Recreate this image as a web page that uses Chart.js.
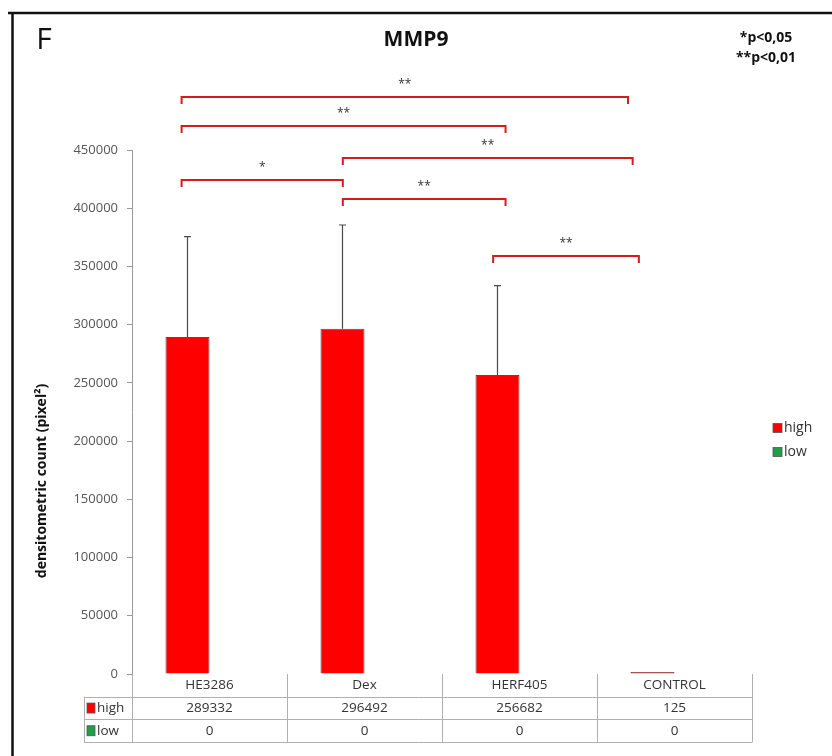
<!DOCTYPE html>
<html>
<head>
<meta charset="utf-8">
<script src="https://cdn.jsdelivr.net/npm/chart.js@4.4.1/dist/chart.umd.min.js"></script>
<style>
  html, body { margin: 0; padding: 0; background: #ffffff; }
  #wrap { width: 832px; height: 756px; }
</style>
</head>
<body>
<div id="wrap"><canvas id="mmp9" width="832" height="756"></canvas></div>
<script>
// MMP9 densitometry per treatment group
const categories = ['HE3286', 'Dex', 'HERF405', 'CONTROL'];
const highValues = [289332, 296492, 256682, 125];
const lowValues = [0, 0, 0, 0];
const highErrors = [86300, 89100, 76800, 0];
const seriesNames = ['high', 'low'];
const seriesColors = ['#ff0000', '#1f9e4a'];

// significance brackets: ends in category units, level in y-axis units
const bracketFrom = [-0.18, -0.18, 0.86, -0.18, 0.86, 1.83];
const bracketTo = [2.70, 1.91, 2.73, 0.86, 1.91, 2.77];
const bracketLevel = [495500, 470600, 443100, 424300, 407900, 359000];
const bracketMarks = ['**', '**', '**', '*', '**', '**'];

const FONT = "'Open Sans', 'DejaVu Sans', sans-serif";

const extras = {
  id: 'extras',
  beforeDraw(chart) {
    const ctx = chart.ctx;
    ctx.save();
    ctx.fillStyle = '#ffffff';
    ctx.fillRect(0, 0, chart.width, chart.height);
    // outer frame (top and left edges)
    ctx.strokeStyle = '#111111';
    ctx.lineWidth = 2.5;
    ctx.beginPath();
    ctx.moveTo(12.5, chart.height);
    ctx.lineTo(12.5, 13);
    ctx.moveTo(8, 13);
    ctx.lineTo(chart.width, 13);
    ctx.stroke();
    ctx.restore();
  },
  afterDraw(chart) {
    const ctx = chart.ctx;
    const xs = chart.scales.x;
    const ys = chart.scales.y;
    const area = chart.chartArea;
    ctx.save();

    // panel letter, title, significance key
    ctx.fillStyle = '#111111';
    ctx.textAlign = 'center';
    ctx.textBaseline = 'middle';
    ctx.font = '400 30px ' + FONT;
    ctx.fillText('F', 44, 40);
    ctx.font = 'bold 21px ' + FONT;
    ctx.fillText('MMP9', 416, 40);
    ctx.font = 'bold 14px ' + FONT;
    ctx.fillText('*p<0,05', 766, 38);
    ctx.fillText('**p<0,01', 766, 58);

    // y-axis title
    ctx.save();
    ctx.translate(42, 481);
    ctx.rotate(-Math.PI / 2);
    ctx.font = 'bold 14px ' + FONT;
    ctx.fillStyle = '#111111';
    ctx.fillText('densitometric count (pixel\u00B2)', 0, 0);
    ctx.restore();

    // error bars on the "high" series
    const meta = chart.getDatasetMeta(0);
    ctx.strokeStyle = '#4a4a4a';
    ctx.lineWidth = 1.2;
    highErrors.forEach((err, i) => {
      if (!err) return;
      const bx = meta.data[i].x;
      const y0 = ys.getPixelForValue(highValues[i]);
      const y1 = ys.getPixelForValue(highValues[i] + err);
      ctx.beginPath();
      ctx.moveTo(bx, y0);
      ctx.lineTo(bx, y1);
      ctx.moveTo(bx - 3.5, y1);
      ctx.lineTo(bx + 3.5, y1);
      ctx.stroke();
    });

    // significance brackets
    ctx.strokeStyle = '#d41c1c';
    ctx.lineWidth = 2;
    ctx.lineCap = 'butt';
    bracketFrom.forEach((f, k) => {
      const x1 = xs.getPixelForValue(f);
      const x2 = xs.getPixelForValue(bracketTo[k]);
      const yl = ys.getPixelForValue(bracketLevel[k]);
      ctx.beginPath();
      ctx.moveTo(x1, yl + 7);
      ctx.lineTo(x1, yl);
      ctx.lineTo(x2, yl);
      ctx.lineTo(x2, yl + 7);
      ctx.stroke();
      ctx.fillStyle = '#333333';
      ctx.font = '12px ' + FONT;
      ctx.fillText(bracketMarks[k], (x1 + x2) / 2, yl - 12);
    });

    // legend on the right
    ctx.font = '14px ' + FONT;
    ctx.textAlign = 'left';
    seriesNames.forEach((name, i) => {
      const ly = 428 + i * 24;
      ctx.fillStyle = seriesColors[i];
      ctx.fillRect(773, ly - 4.5, 9, 9);
      ctx.strokeStyle = '#555555';
      ctx.lineWidth = 0.8;
      ctx.strokeRect(773, ly - 4.5, 9, 9);
      ctx.fillStyle = '#333333';
      ctx.fillText(name, 784, ly);
    });

    // data table under the plot
    const top = area.bottom;
    const rowH = 22.7;
    const keyLeft = 84;
    const edges = [];
    for (let i = 0; i <= categories.length; i++) {
      edges.push(xs.getPixelForValue(i - 0.5));
    }
    ctx.strokeStyle = '#b0b0b0';
    ctx.lineWidth = 1;
    ctx.beginPath();
    edges.forEach((ex) => {
      ctx.moveTo(ex + 0.5, top);
      ctx.lineTo(ex + 0.5, top + rowH * 3);
    });
    ctx.moveTo(keyLeft + 0.5, top + rowH);
    ctx.lineTo(keyLeft + 0.5, top + rowH * 3);
    for (let r = 1; r <= 3; r++) {
      const yy = Math.round(top + rowH * r) + 0.5;
      ctx.moveTo(keyLeft, yy);
      ctx.lineTo(edges[edges.length - 1] + 0.5, yy);
    }
    ctx.stroke();

    ctx.fillStyle = '#333333';
    ctx.font = '13.5px ' + FONT;
    ctx.textAlign = 'center';
    const rows = [highValues, lowValues];
    categories.forEach((c, i) => {
      const cx = xs.getPixelForValue(i);
      ctx.fillText(c, cx, top + rowH * 0.5);
      rows.forEach((vals, r) => {
        ctx.fillText(String(vals[i]), cx, top + rowH * (r + 1.5));
      });
    });
    ctx.textAlign = 'left';
    seriesNames.forEach((name, r) => {
      const yy = top + rowH * (r + 1.5);
      ctx.fillStyle = seriesColors[r];
      ctx.fillRect(87, yy - 5, 8, 10);
      ctx.strokeStyle = '#555555';
      ctx.lineWidth = 0.8;
      ctx.strokeRect(87, yy - 5, 8, 10);
      ctx.fillStyle = '#333333';
      ctx.fillText(name, 97, yy);
    });

    ctx.restore();
  }
};

new Chart(document.getElementById('mmp9'), {
  type: 'bar',
  data: {
    labels: categories,
    datasets: [
      {
        label: seriesNames[0],
        data: highValues,
        backgroundColor: seriesColors[0],
        borderColor: '#5a4a4a',
        borderWidth: 1,
        minBarLength: 2,
        categoryPercentage: 0.568,
        barPercentage: 1.0
      },
      {
        label: seriesNames[1],
        data: lowValues,
        backgroundColor: seriesColors[1],
        borderWidth: 0,
        categoryPercentage: 0.568,
        barPercentage: 1.0
      }
    ]
  },
  options: {
    responsive: false,
    animation: false,
    events: [],
    layout: { padding: { left: 0, top: 150, right: 80, bottom: 82 } },
    plugins: {
      legend: { display: false },
      title: { display: false },
      tooltip: { enabled: false }
    },
    scales: {
      x: { display: false },
      y: {
        min: 0,
        max: 450000,
        afterFit(scale) { scale.width = 132; },
        ticks: {
          stepSize: 50000,
          padding: 9,
          color: '#555555',
          font: { family: FONT, size: 13 },
          callback: (v) => String(v)
        },
        grid: {
          display: true,
          drawOnChartArea: false,
          drawTicks: true,
          tickLength: 5,
          color: '#9a9a9a'
        },
        border: { display: true, color: '#9a9a9a' }
      }
    }
  },
  plugins: [extras]
});
</script>
</body>
</html>
